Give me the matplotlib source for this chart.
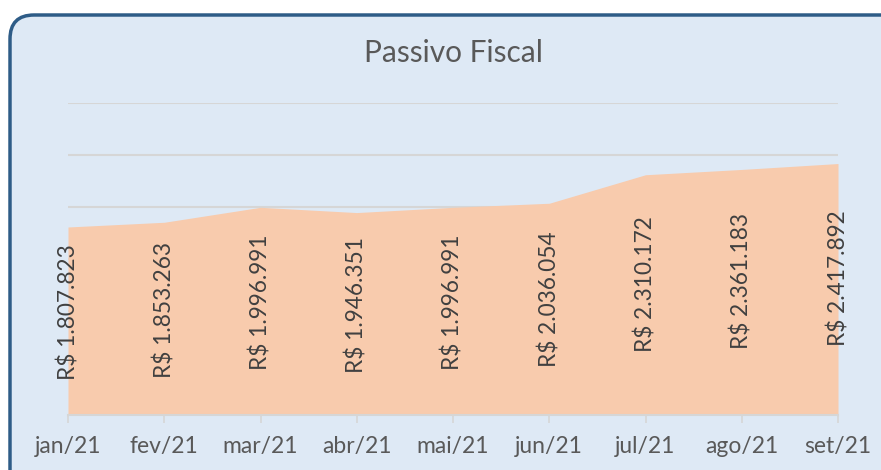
import matplotlib
matplotlib.use("Agg")
import matplotlib.pyplot as plt
from matplotlib.patches import FancyBboxPatch

# Passivo Fiscal - monthly values (R$)
meses = ["jan/21", "fev/21", "mar/21", "abr/21", "mai/21",
         "jun/21", "jul/21", "ago/21", "set/21"]
valores = [1807823, 1853263, 1996991, 1946351, 1996991,
           2036054, 2310172, 2361183, 2417892]

plt.rcParams["font.family"] = ["Lato", "DejaVu Sans"]

fig = plt.figure(figsize=(8.81, 4.70), dpi=100, facecolor="white")

# rounded card behind the chart, in pixel units
bg = fig.add_axes([0, 0, 1, 1])
bg.set_xlim(0, 881)
bg.set_ylim(470, 0)
bg.axis("off")
card = FancyBboxPatch((10, 15), 900, 500,
                      boxstyle="round,pad=0,rounding_size=24",
                      facecolor="#DEE9F5", edgecolor="#2E5C87", linewidth=2.5)
bg.add_patch(card)

ax = fig.add_axes([68 / 881, 1 - 415 / 470, (838 - 68) / 881, (415 - 103) / 470])
ax.set_facecolor("none")
x = list(range(len(meses)))
ax.fill_between(x, valores, 0, color="#F8CBAD", lw=0, zorder=2)
ax.set_xlim(0, len(meses) - 1)
ax.set_ylim(0, 3000000)
ax.set_yticks([0, 500000, 1000000, 1500000, 2000000, 2500000, 3000000])
ax.yaxis.grid(True, color="#D6D6D6", lw=1.5, zorder=1)
ax.set_axisbelow(True)
ax.tick_params(axis="y", left=False, labelleft=False)
ax.set_xticks(x)
ax.set_xticklabels(meses, fontsize=16.5, color="#595959")
ax.tick_params(axis="x", length=6, width=1.2, color="#D6D6D6", pad=9)
for s in ["top", "left", "right"]:
    ax.spines[s].set_visible(False)
ax.spines["bottom"].set_color("#D6D6D6")
ax.spines["bottom"].set_linewidth(1.5)

for i, v in enumerate(valores):
    txt = "R$ " + f"{v:,}".replace(",", ".")
    ax.text(i, v * 0.545, txt, rotation=90, ha="center", va="center",
            fontsize=16.3, color="#404040", zorder=3)

fig.text(453 / 881, 1 - 53 / 470, "Passivo Fiscal", ha="center", va="center",
         fontsize=21.5, color="#595959")

fig.savefig("out.png", dpi=100, facecolor="white")
